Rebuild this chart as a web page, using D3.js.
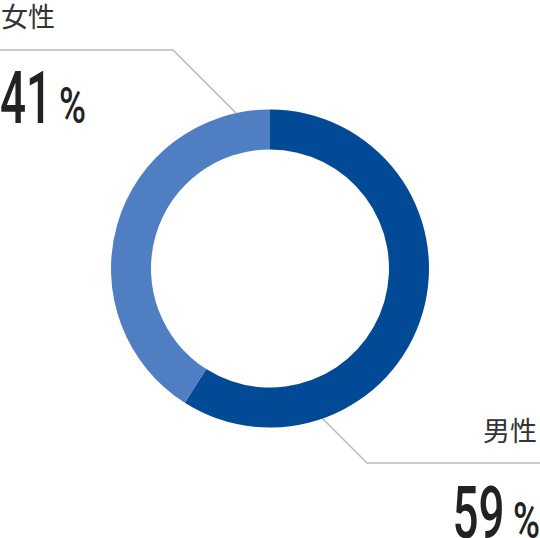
<!DOCTYPE html>
<html lang="ja">
<head>
<meta charset="UTF-8">
<title>男女比</title>
<style>
  body { margin: 0; padding: 0; background: #fff; }
  #chart { width: 540px; height: 538px; }
  .label { font-family: "Noto Sans CJK JP", sans-serif; fill: #333; }
  .num { font-family: Roboto, "DejaVu Sans", sans-serif; fill: #222; font-weight: 500; }
</style>
</head>
<body>
<div id="chart"></div>
<script src="https://d3js.org/d3.v7.min.js"></script>
<script>
  // データ
  const labels = ["男性", "女性"];
  const values = [59, 41];
  const colors = ["#024a96", "#4f7fc2"];

  const width = 540, height = 538;
  const cx = 270, cy = 268.5;
  const outerR = 159, innerR = 119;

  const svg = d3.select("#chart").append("svg")
    .attr("width", width)
    .attr("height", height);

  // 引き出し線
  const lineColor = "#bbb";
  const leaders = [
    [[0, 50], [173, 50], [236, 113]],
    [[322, 418], [367, 463], [540, 463]]
  ];
  svg.selectAll(".leader")
    .data(leaders)
    .enter().append("path")
    .attr("class", "leader")
    .attr("d", d3.line())
    .attr("fill", "none")
    .attr("stroke", lineColor)
    .attr("stroke-width", 1.6);

  // ドーナツ
  const pie = d3.pie().sort(null).value(d => d);
  const arc = d3.arc().innerRadius(innerR).outerRadius(outerR);

  svg.append("g")
    .attr("transform", `translate(${cx},${cy})`)
    .selectAll("path")
    .data(pie(values))
    .enter().append("path")
    .attr("d", arc)
    .attr("fill", (d, i) => colors[i]);

  // ラベル
  const labelPos = [
    { name: [537, 441], anchor: "end", num: [452.5, 537.5], pct: [513, 537.5] },
    { name: [1, 26.5], anchor: "start", num: [0, 123], pct: [59, 123] }
  ];

  labels.forEach((name, i) => {
    const p = labelPos[i];
    svg.append("text")
      .attr("class", "label")
      .attr("x", p.name[0])
      .attr("y", p.name[1])
      .attr("text-anchor", p.anchor)
      .attr("font-size", 27)
      .text(name);

    svg.append("text")
      .attr("class", "num")
      .attr("x", p.num[0])
      .attr("y", p.num[1])
      .attr("font-size", 73)
      .attr("textLength", 52)
      .attr("lengthAdjust", "spacingAndGlyphs")
      .text(values[i]);

    svg.append("text")
      .attr("class", "num")
      .attr("x", p.pct[0])
      .attr("y", p.pct[1])
      .attr("font-size", 50)
      .attr("textLength", 27)
      .attr("lengthAdjust", "spacingAndGlyphs")
      .text("%");
  });
</script>
</body>
</html>
